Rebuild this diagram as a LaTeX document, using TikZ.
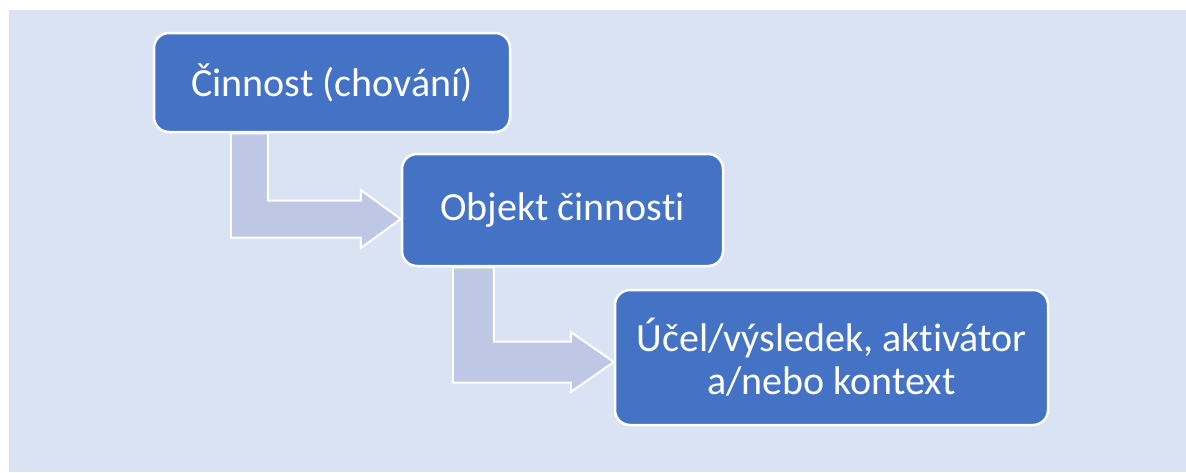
\documentclass[tikz,border=0pt]{standalone}
\usepackage{fontspec}
\setmainfont{Carlito}[Ligatures=NoCommon]
\usepackage{tikz}
\usetikzlibrary{calc}
\definecolor{boxblue}{HTML}{4472C4}
\definecolor{flowblue}{HTML}{BEC8E4}
\definecolor{backblue}{HTML}{DAE3F3}
\tikzset{
  stepbox/.style={draw=white, line width=2.5pt, fill=boxblue, rounded corners=15pt,
    text=white, align=center, font=\fontsize{40}{43}\selectfont, inner sep=0pt},
  flow/.style={fill=flowblue, draw=white, line width=2pt}
}
\newcommand{\bentarrow}[5]{%
  \path[flow] let \p1=(#1), \p2=(#2) in
    (\x1,\y1) -- (\x1+#3,\y1) -- (\x1+#3,\y2+#3/2) -- (\x2-#5,\y2+#3/2)
    -- (\x2-#5,\y2+#4) -- (\x2,\y2) -- (\x2-#5,\y2-#4) -- (\x2-#5,\y2-#3/2)
    -- (\x1,\y2-#3/2) -- cycle;}
\begin{document}
\begin{tikzpicture}[x=1pt, y=-1pt]
      \useasboundingbox (0, 0) rectangle (1186, 472);
      \fill[backblue] (9, 10) rectangle (1186, 472);
      \node[stepbox, minimum width=356pt, minimum height=99pt] at (332, 82.5) (act) {Činnost (chování)};
      \node[stepbox, minimum width=321pt, minimum height=112pt] at (562.5, 210) (obj) {Objekt činnosti};
      \node[stepbox, minimum width=433pt, minimum height=135pt] at (831.5, 357.5) (res) {Účel/výsledek, aktivátor\\a/nebo kontext};
      \coordinate (a1) at ([xshift=78pt]act.south west);
      \coordinate (t1) at ([yshift=-9pt]obj.west);
      \bentarrow{a1}{t1}{37pt}{29pt}{40pt}
      \coordinate (a2) at ([xshift=52pt]obj.south west);
      \coordinate (t2) at ([yshift=-4.5pt]res.west);
      \bentarrow{a2}{t2}{41pt}{30pt}{43pt}
    \end{tikzpicture}
\end{document}
